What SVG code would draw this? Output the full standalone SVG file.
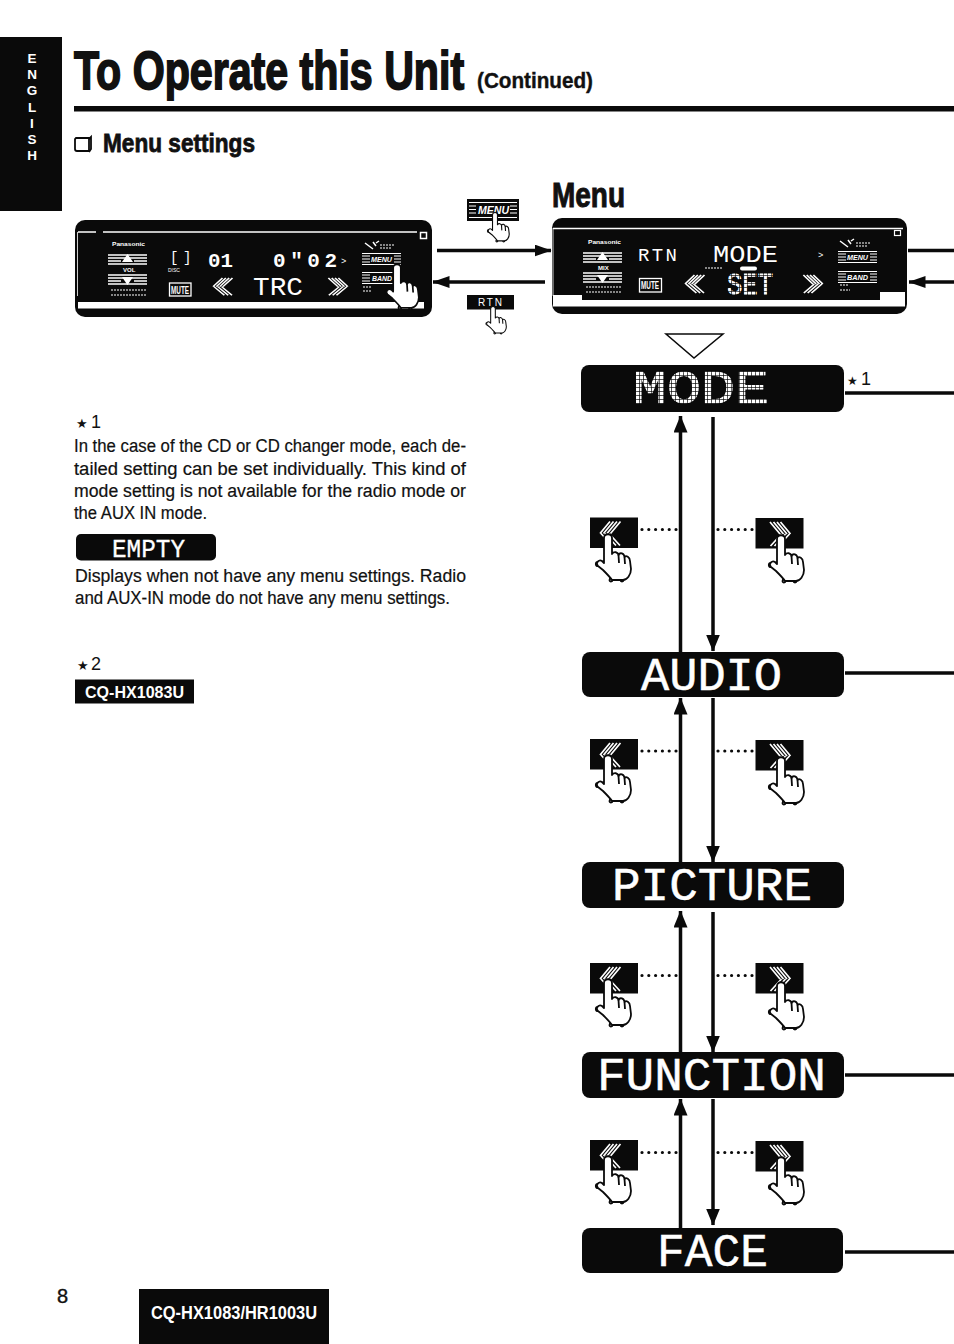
<svg xmlns="http://www.w3.org/2000/svg" width="954" height="1344" viewBox="0 0 954 1344">
<style>
text{font-family:"Liberation Sans",Arial,sans-serif;fill:#111}
.b{font-weight:bold}
.body{font-size:18px;stroke:#111;stroke-width:.2}
.w{fill:#fff}
.tab{fill:#fff;font-weight:bold;font-size:13.500px}
.lcd{font-family:"Liberation Mono",monospace;fill:#fff;font-size:46px;stroke:#fff;stroke-width:.5}
.dl{font-family:"Liberation Mono",monospace;fill:#fff;font-size:23px}
.tiny{fill:#fff;font-size:6px}
.bar{fill:#0a0a0a}
.line{stroke:#0a0a0a;stroke-width:3.500;fill:none}
.dot{stroke:#0a0a0a;stroke-width:3.200;stroke-dasharray:0 6.800;stroke-linecap:round;fill:none}
.hand{fill:#fff;stroke:#0a0a0a;stroke-width:1.800;stroke-linejoin:round}
.ch{stroke:#fff;stroke-width:1.700;fill:none}
.st{stroke:#fff;stroke-width:1.500;fill:none}
.sm{stroke:#fff;stroke-width:1.200;fill:none;stroke-dasharray:2 1}
.ital{fill:#fff;font-style:italic;font-weight:bold;font-size:8px}
.dm{fill:url(#dots);stroke:url(#dots);stroke-width:.9}
</style>
<defs>
<marker id="ah" markerUnits="userSpaceOnUse" markerWidth="17" markerHeight="12" refX="16.500" refY="6" orient="auto"><path d="M0,0 L17,6 L0,12 Z" fill="#0a0a0a"/></marker>
<marker id="av" markerUnits="userSpaceOnUse" markerWidth="17" markerHeight="14" refX="16.500" refY="7" orient="auto"><path d="M0,0 L17,7 L0,14 Z" fill="#0a0a0a"/></marker>
<pattern id="dots" width="4" height="4" patternUnits="userSpaceOnUse"><rect width="3.300" height="3.300" fill="#fff"/></pattern>
<g id="hand">
<circle class="hand" cx="3" cy="45" r="1.500"/><circle class="hand" cx="14" cy="45" r="1.500"/><circle class="hand" cx="-10" cy="29" r="2.200"/>
<path class="hand" d="M-4,3 C-4,-2 4,-2 4,3 L4,19 C6,16 10,17 10.500,20 C12,17 16,18 16.500,22 C18,20 22,22 22,26 L23,34 C23,40 19,45 15,45 L4,45 C2,42 -2,38 -5,35 L-10,31 C-13,28 -9,24 -6,26 L-4,28 Z"/>
<path class="hand" d="M10.500,20 L11,28 M16.500,22 L17,29"/>
</g>
<g id="chevL" class="ch">
<path d="M10,0 L0,12 M13.500,0 L3.500,12 M17,0 L7,12 M20.500,0 L10.500,12 M1,12 L12,24 M5,12 L16,24 M9,12 L20,24"/>
</g>
<g id="chevR" class="ch">
<path d="M13,0 L23,12 M9.500,0 L19.500,12 M6,0 L16,12 M2.500,0 L12.500,12 M22,12 L11,24 M18,12 L7,24 M14,12 L3,24"/>
</g>
<g id="btnL"><rect width="48" height="30.500" fill="#0a0a0a"/><use href="#chevL" transform="translate(10,4)"/></g>
<g id="btnR"><rect width="48" height="30.500" fill="#0a0a0a"/><use href="#chevR" transform="translate(12,4)"/></g>
<g id="vol">
<path class="st" d="M0,1H39M0,4H39M0,7H13M26,7H39M0,10H39"/>
<path d="M19.500,0 L25,8 H14 Z" fill="#fff"/>
<path class="st" d="M0,21H39M0,24H39M0,27H13M26,27H39M0,30H39"/>
<path d="M19.500,31 L25,23 H14 Z" fill="#fff"/>
</g>
<g id="menuBtn">
<path class="st" style="stroke-width:1" d="M0,3H8M0,6H8M0,9H8M32,3H39M32,6H39M32,9H39M0,0.500H39M0,11.500H39"/>
</g>
<g id="logo"><path class="st" d="M0,0 L8,6 M8,-1 L11,3 M11,0 L14,-2"/></g>
</defs>

<g id="tab">
<rect x="0" y="37" width="62" height="174" fill="#0a0a0a"/>
<text class="tab" x="32" y="63" text-anchor="middle">E</text>
<text class="tab" x="32" y="79" text-anchor="middle">N</text>
<text class="tab" x="32" y="95" text-anchor="middle">G</text>
<text class="tab" x="32" y="112" text-anchor="middle">L</text>
<text class="tab" x="32" y="128" text-anchor="middle">I</text>
<text class="tab" x="32" y="144" text-anchor="middle">S</text>
<text class="tab" x="32" y="160" text-anchor="middle">H</text>
</g>

<g id="title">
<text class="b" transform="translate(74,89) scale(.762,1)" font-size="54" stroke="#111" stroke-width="1.800">To Operate this Unit</text>
<text class="b" x="477" y="88" font-size="22" textLength="116" lengthAdjust="spacingAndGlyphs" stroke="#111" stroke-width=".4">(Continued)</text>
<rect x="74" y="106" width="880" height="5.500" fill="#0a0a0a"/>
</g>

<g id="section">
<path d="M76,138 H89 V151 H77 Q75,151 75,149 V139 Z" fill="none" stroke="#0a0a0a" stroke-width="1.800"/>
<path d="M89,139 L91,137 V149 L89,152" fill="none" stroke="#0a0a0a" stroke-width="1.800"/>
<text class="b" x="103" y="152" font-size="26" textLength="152" lengthAdjust="spacingAndGlyphs" stroke="#111" stroke-width=".8">Menu settings</text>
<text class="b" x="552" y="207" font-size="35" textLength="73" lengthAdjust="spacingAndGlyphs" stroke="#111" stroke-width="1">Menu</text>
</g>

<g id="display-1">
<rect x="75" y="220" width="357" height="97" rx="10" fill="#0a0a0a"/>
<path d="M78,232 H96 M103,232 H417" stroke="#fff" stroke-width="1.500"/>
<path d="M77.500,232 V296" stroke="#fff" stroke-width=".8"/>
<rect x="78" y="302" width="346" height="6.500" fill="#fff"/>
<rect x="420.500" y="232.500" width="6" height="6" fill="none" stroke="#fff" stroke-width="1.500"/>
<text class="b tiny" x="112" y="246" textLength="33" lengthAdjust="spacingAndGlyphs">Panasonic</text>
<use href="#vol" transform="translate(108,254)"/>
<text class="b tiny" x="123" y="272">VOL</text>
<path class="sm" d="M111,290 H147 M111,295 H147"/>
<text class="dl" x="170 183" y="262" style="font-size:14px">[]</text>
<text class="tiny" x="168" y="272" style="font-size:5px">DISC</text>
<text class="dl b" x="208" y="267" textLength="25" lengthAdjust="spacingAndGlyphs" style="font-size:21px">01</text>
<text class="dl b" x="273" y="267" textLength="64" style="font-size:21px">0"02</text>
<text class="dl" x="341" y="264" style="font-size:9px">&gt;</text>
<rect x="169.500" y="283" width="21.500" height="13" fill="none" stroke="#fff" stroke-width="1.300"/>
<text class="b tiny" x="171" y="293.500" textLength="18" lengthAdjust="spacingAndGlyphs" style="font-size:10px">MUTE</text>
<use href="#chevL" transform="translate(213,278) scale(.95,.72)"/>
<text class="dl" x="253" y="295" textLength="50" lengthAdjust="spacingAndGlyphs" style="font-size:26px">TRC</text>
<use href="#chevR" transform="translate(326,278) scale(.95,.72)"/>
<path class="sm" d="M380,245 H394 M380,248 H392"/>
<use href="#logo" transform="translate(365,243)"/>
<use href="#menuBtn" transform="translate(362,253)"/>
<text class="ital" x="371" y="262" textLength="21" lengthAdjust="spacingAndGlyphs">MENU</text>
<use href="#menuBtn" transform="translate(362,272)"/>
<text class="ital" x="372" y="281" textLength="20" lengthAdjust="spacingAndGlyphs">BAND</text>
<path class="sm" d="M363,287 H371 M363,291 H371"/>
<use href="#hand" transform="translate(397,265) scale(.95)"/>
</g>

<g id="display-2">
<rect x="552" y="218" width="355" height="96" rx="10" fill="#0a0a0a"/>
<path d="M553,228.500 H903" stroke="#fff" stroke-width="1.500"/>
<path d="M553,228 V296" stroke="#fff" stroke-width=".8"/>
<rect x="553" y="300" width="352" height="6.500" fill="#fff"/>
<rect x="553" y="295" width="29" height="6" fill="#fff"/>
<rect x="880" y="292" width="25" height="9" fill="#fff"/>
<rect x="894.500" y="230.500" width="6" height="5" fill="none" stroke="#fff" stroke-width="1.200"/>
<text class="b tiny" x="588" y="244" textLength="33" lengthAdjust="spacingAndGlyphs">Panasonic</text>
<use href="#vol" transform="translate(583,252)"/>
<text class="b tiny" x="598" y="270">MIX</text>
<path class="sm" d="M586,287 H622 M586,292 H622"/>
<text class="dl" x="638" y="261" textLength="39" style="font-size:19px">RTN</text>
<text class="dl" x="713" y="262" textLength="65" lengthAdjust="spacingAndGlyphs">MODE</text>
<text class="dl" x="818" y="258" style="font-size:9px">&gt;</text>
<path class="sm" d="M705,268 H723"/>
<rect x="740" y="266.500" width="17" height="4" rx="2" fill="#fff"/>
<rect x="639.500" y="278.500" width="22" height="13.500" fill="none" stroke="#fff" stroke-width="1.300"/>
<text class="b tiny" x="641" y="289" textLength="18" lengthAdjust="spacingAndGlyphs" style="font-size:10px">MUTE</text>
<use href="#chevL" transform="translate(685,275) scale(.95,.75)"/>
<text class="dl dm" x="727" y="294" textLength="46" lengthAdjust="spacingAndGlyphs" style="font-size:29px">SET</text>
<use href="#chevR" transform="translate(801,275) scale(.95,.75)"/>
<use href="#logo" transform="translate(840,241)"/>
<path class="sm" d="M856,243 H870 M856,246 H868"/>
<use href="#menuBtn" transform="translate(838,251)"/>
<text class="ital" x="847" y="260" textLength="21" lengthAdjust="spacingAndGlyphs">MENU</text>
<use href="#menuBtn" transform="translate(838,271)"/>
<text class="ital" x="847" y="280" textLength="21" lengthAdjust="spacingAndGlyphs">BAND</text>
<path class="sm" d="M840,285 H848 M840,290 H850"/>
</g>

<g id="menu-button">
<rect x="467" y="199" width="52" height="22" fill="#0a0a0a"/>
<path class="st" style="stroke-width:1" d="M469,206H476M469,209.500H476M469,213H476M510,206H517M510,209.500H517M510,213H517M469,217.500H517M469,202.500H517"/>
<text class="w" x="478" y="214" font-size="10" font-style="italic" font-weight="bold" textLength="31" lengthAdjust="spacingAndGlyphs">MENU</text>
<use href="#hand" transform="translate(495,213) scale(.62)"/>
</g>
<g id="rtn-button">
<rect x="467" y="295" width="47" height="14.500" fill="#0a0a0a"/>
<text class="w" x="478" y="306" font-size="10" textLength="24">RTN</text>
<use href="#hand" transform="translate(493,307) scale(.58)"/>
</g>

<g id="connectors">
<path class="line" d="M437,250.500 H551" marker-end="url(#ah)"/>
<path class="line" d="M545,282 H433" marker-end="url(#ah)"/>
<path class="line" d="M908,250.500 H954"/>
<path class="line" d="M954,282 H909" marker-end="url(#ah)"/>
<path d="M666,334 H723 L694,358 Z" fill="#fff" stroke="#0a0a0a" stroke-width="1.500"/>
<path class="line" d="M845,393 H954"/>
<path class="line" d="M845,673 H954"/>
<path class="line" d="M845,1075 H954"/>
<path class="line" d="M845,1252 H954"/>
<path class="line" d="M680.500,652 V416" marker-end="url(#av)"/>
<path class="line" d="M713,417 V651" marker-end="url(#av)"/>
<path class="line" d="M680.500,862 V698" marker-end="url(#av)"/>
<path class="line" d="M713,698 V862" marker-end="url(#av)"/>
<path class="line" d="M680.500,1053 V911" marker-end="url(#av)"/>
<path class="line" d="M713,912 V1052" marker-end="url(#av)"/>
<path class="line" d="M680.500,1229 V1099" marker-end="url(#av)"/>
<path class="line" d="M713,1099 V1225" marker-end="url(#av)"/>
<path class="dot" d="M642,529.500 H678 M718,529.500 H755"/>
<path class="dot" d="M642,751 H678 M718,751 H755"/>
<path class="dot" d="M642,975.500 H678 M718,975.500 H755"/>
<path class="dot" d="M642,1152.500 H678 M718,1152.500 H755"/>
</g>

<g id="node-mode"><rect class="bar" x="581" y="365" width="263" height="47" rx="8"/><text class="lcd dm" x="633" y="403" textLength="136" lengthAdjust="spacingAndGlyphs">MODE</text></g>
<g id="star-1"><text x="847" y="385" style="font-family:'DejaVu Sans',sans-serif;font-size:12px">★</text><text x="861" y="385" font-size="18">1</text></g>
<g id="node-audio"><rect class="bar" x="582" y="652" width="262" height="45" rx="8"/><text class="lcd" x="641" y="690" textLength="141" lengthAdjust="spacingAndGlyphs">AUDIO</text></g>
<g id="node-picture"><rect class="bar" x="582" y="862" width="262" height="46" rx="8"/><text class="lcd" x="612" y="900" textLength="200" lengthAdjust="spacingAndGlyphs">PICTURE</text></g>
<g id="node-function"><rect class="bar" x="582" y="1052" width="262" height="46" rx="8"/><text class="lcd" x="597" y="1090" textLength="229" lengthAdjust="spacingAndGlyphs">FUNCTION</text></g>
<g id="node-face"><rect class="bar" x="582" y="1228" width="261" height="45" rx="8"/><text class="lcd" x="657" y="1266" textLength="111" lengthAdjust="spacingAndGlyphs">FACE</text></g>

<g id="buttons-1"><use href="#btnL" x="590" y="517.500"/><use href="#hand" x="608" y="535"/><use href="#btnR" x="755.500" y="518"/><use href="#hand" x="781" y="536"/></g>
<g id="buttons-2"><use href="#btnL" x="590" y="739"/><use href="#hand" x="608" y="756"/><use href="#btnR" x="755.500" y="740"/><use href="#hand" x="781" y="758"/></g>
<g id="buttons-3"><use href="#btnL" x="590" y="963"/><use href="#hand" x="608" y="980"/><use href="#btnR" x="755.500" y="963"/><use href="#hand" x="781" y="983"/></g>
<g id="buttons-4"><use href="#btnL" x="590" y="1140"/><use href="#hand" x="608" y="1157"/><use href="#btnR" x="755.500" y="1141"/><use href="#hand" x="781" y="1158"/></g>

<g id="notes">
<text x="76" y="428" style="font-family:'DejaVu Sans',sans-serif;font-size:13px">★</text><text x="91" y="428" font-size="18">1</text>
<text class="body" x="74" y="451.500" textLength="392" lengthAdjust="spacingAndGlyphs">In the case of the CD or CD changer mode, each de-</text>
<text class="body" x="74" y="474.500" textLength="392" lengthAdjust="spacingAndGlyphs">tailed setting can be set individually. This kind of</text>
<text class="body" x="74" y="497" textLength="392" lengthAdjust="spacingAndGlyphs">mode setting is not available for the radio mode or</text>
<text class="body" x="74" y="519" textLength="133" lengthAdjust="spacingAndGlyphs">the AUX IN mode.</text>
<rect x="76" y="534" width="140" height="26.500" rx="5" fill="#0a0a0a"/>
<text class="lcd" x="112" y="557" textLength="73" lengthAdjust="spacingAndGlyphs" style="font-size:26px;stroke-width:.3">EMPTY</text>
<text class="body" x="75" y="581.500" textLength="391" lengthAdjust="spacingAndGlyphs">Displays when not have any menu settings. Radio</text>
<text class="body" x="75" y="603.500" textLength="375" lengthAdjust="spacingAndGlyphs">and AUX-IN mode do not have any menu settings.</text>
<text x="77" y="670" style="font-family:'DejaVu Sans',sans-serif;font-size:13px">★</text><text x="91" y="670" font-size="18">2</text>
<rect x="75" y="679.500" width="119" height="24" fill="#0a0a0a"/>
<text class="b w" x="85" y="698" font-size="17" textLength="99" lengthAdjust="spacingAndGlyphs">CQ-HX1083U</text>
</g>

<g id="footer">
<text x="57" y="1303" font-size="20" stroke="#111" stroke-width=".4">8</text>
<rect x="139" y="1289" width="190" height="55" fill="#0a0a0a"/>
<text class="b w" x="151" y="1319" font-size="19" textLength="166" lengthAdjust="spacingAndGlyphs">CQ-HX1083/HR1003U</text>
</g>
</svg>
